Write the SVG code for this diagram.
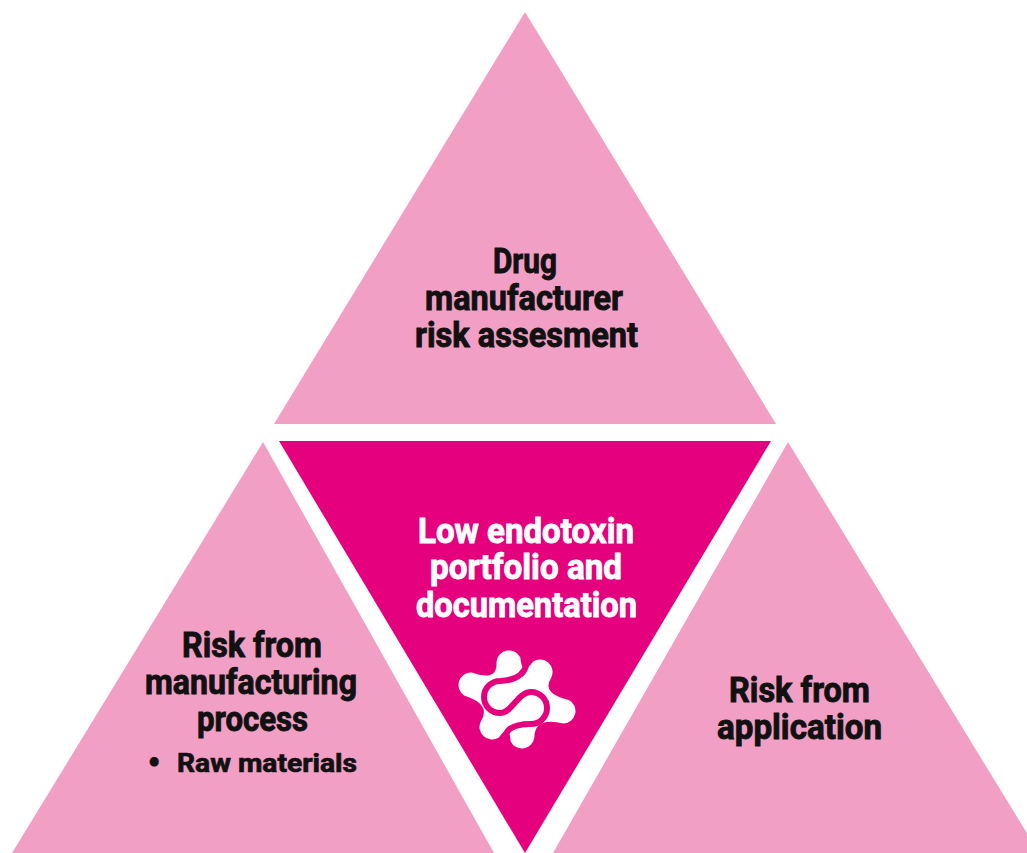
<svg xmlns="http://www.w3.org/2000/svg" width="1027" height="853" viewBox="0 0 1027 853">
<style>
.light{fill:#F29FC5}
.dark{fill:#E5007E}
.t{font-family:Roboto,"Liberation Sans",sans-serif;font-weight:700;font-size:35px;fill:#111;stroke:#111;stroke-width:0.9px}
.w{fill:#fff;stroke:#fff}
.s{font-size:26px;stroke-width:0.7px}
</style>
<rect width="1027" height="853" fill="#fff"/>
<g id="top">
<polygon class="light" points="525,12 274,424 776,424"/>
<text class="t" x="493" y="273" textLength="64" lengthAdjust="spacingAndGlyphs">Drug</text>
<text class="t" x="425" y="310" textLength="198" lengthAdjust="spacingAndGlyphs">manufacturer</text>
<text class="t" x="415" y="347" textLength="223" lengthAdjust="spacingAndGlyphs">risk assesment</text>
</g>
<g id="left">
<polygon class="light" points="263,442 12,853 494,853"/>
<text class="t" x="182" y="657" textLength="140" lengthAdjust="spacingAndGlyphs">Risk from</text>
<text class="t" x="145" y="694" textLength="212" lengthAdjust="spacingAndGlyphs">manufacturing</text>
<text class="t" x="197" y="731" textLength="111" lengthAdjust="spacingAndGlyphs">process</text>
<text class="t" x="154" y="775" text-anchor="middle" font-size="44">•</text>
<text class="t s" x="177" y="772" textLength="180" lengthAdjust="spacingAndGlyphs">Raw materials</text>
</g>
<g id="right">
<polygon class="light" points="788,442 553,853 1039,853"/>
<text class="t" x="729" y="702" textLength="141" lengthAdjust="spacingAndGlyphs">Risk from</text>
<text class="t" x="717" y="739" textLength="165" lengthAdjust="spacingAndGlyphs">application</text>
</g>
<g id="center">
<polygon class="dark" points="279,441 771,441 525,853"/>
<text class="t w" x="418" y="543" textLength="216" lengthAdjust="spacingAndGlyphs">Low endotoxin</text>
<text class="t w" x="430" y="579" textLength="192" lengthAdjust="spacingAndGlyphs">portfolio and</text>
<text class="t w" x="416" y="617" textLength="221" lengthAdjust="spacingAndGlyphs">documentation</text>
<g id="icon">
<path fill="#fff" d="M 496.5 662.1 A 12.5 12.5 0 0 1 520.3 657.6 Q 522 677.3 532.9 661.7 A 12.5 12.5 0 0 1 551.3 677.4 Q 540.9 694 568.9 700 A 12.5 12.5 0 0 1 563.4 723.5 Q 534.5 716.5 534.4 737.2 A 12.5 12.5 0 0 1 510.6 741.2 Q 509.7 722 498.9 737.4 A 12.5 12.5 0 0 1 480.8 721.4 Q 491.9 704.2 464.1 695.4 A 12.5 12.5 0 0 1 471.7 672.5 Q 497.8 681.8 496.5 662.1 Z"/>
<path fill="none" stroke="#E5007E" stroke-width="6" d="M 526 666 Q 522 680 500 681 A 16 16 0 0 0 500 713 C 512 713 518 692 531 692 A 16 16 0 0 1 531 724 Q 510 724 506 734"/>
</g>
</g>
<g id="connectors"/>
</svg>
